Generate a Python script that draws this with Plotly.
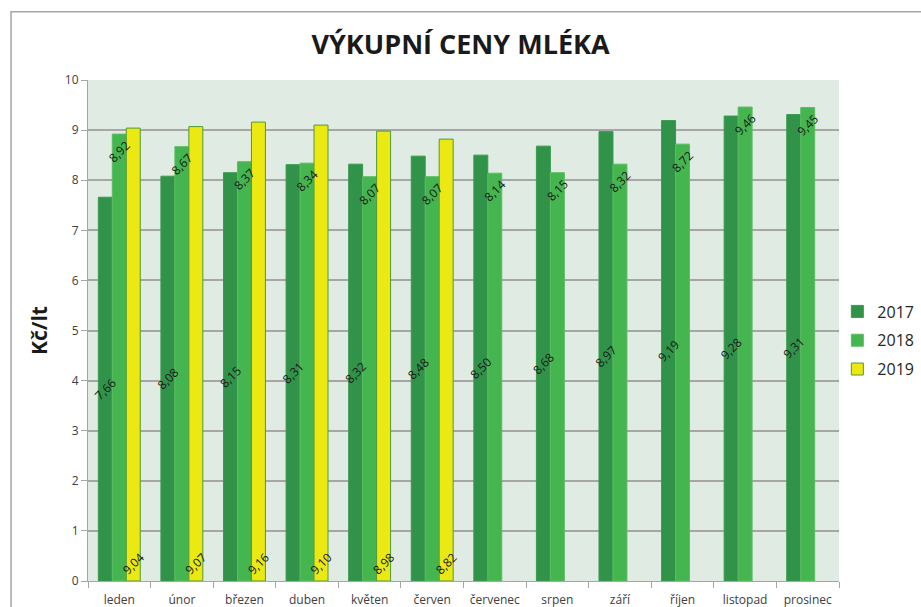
import plotly.graph_objects as go

months = ["leden", "únor", "březen", "duben", "květen", "červen", "červenec",
          "srpen", "září", "říjen", "listopad", "prosinec"]
y2017 = [7.66, 8.08, 8.15, 8.31, 8.32, 8.48, 8.50, 8.68, 8.97, 9.19, 9.28, 9.31]
y2018 = [8.92, 8.67, 8.37, 8.34, 8.07, 8.07, 8.14, 8.15, 8.32, 8.72, 9.46, 9.45]
y2019 = [9.04, 9.07, 9.16, 9.10, 8.98, 8.82, None, None, None, None, None, None]
y_ticks = [0, 1, 2, 3, 4, 5, 6, 7, 8, 9, 10]

FONT = "Open Sans"
label_font = dict(family=FONT, size=12, color="#1a1a1a")

def fmt(vals):
    return ["" if v is None else f"{v:.2f}".replace(".", ",") for v in vals]

series = [
    ("2017", y2017, "#31934a", "#3a9a4c", "middle"),
    ("2018", y2018, "#45b54f", "#5cbd62", "end"),
    ("2019", y2019, "#ebe812", "#4f9a3a", "start"),
]

fig = go.Figure()
# coloured bars
for name, vals, col, lcol, anchor in series:
    fig.add_trace(go.Bar(
        x=months, y=vals, name=name, legendgroup=name, offsetgroup=name,
        marker=dict(color=col, line=dict(color=lcol, width=1)),
        hoverinfo="skip",
    ))
# data labels drawn on top of all bars
for name, vals, col, lcol, anchor in series:
    fig.add_trace(go.Bar(
        x=months, y=vals, name=name, offsetgroup=name, showlegend=False,
        marker=dict(color="rgba(0,0,0,0)", line=dict(width=0)),
        text=fmt(vals), textposition="inside", insidetextanchor=anchor,
        textangle=-45, constraintext="none",
        textfont=label_font, insidetextfont=label_font,
        hoverinfo="skip",
    ))

fig.update_layout(
    width=921, height=607,
    margin=dict(l=88, r=82, t=80, b=26, autoexpand=False),
    paper_bgcolor="white", plot_bgcolor="#e0ece3",
    barmode="group", bargap=0.33, bargroupgap=0,
    font=dict(family=FONT, color="#404040"),
    title=dict(text="<b>VÝKUPNÍ CENY MLÉKA</b>", x=0.5, xanchor="center",
               y=0.926, yanchor="middle", yref="container",
               font=dict(family=FONT, size=27, color="#1a1a1a")),
    legend=dict(x=1.107, xanchor="right", y=0.48, yanchor="middle",
                bgcolor="rgba(0,0,0,0)",
                font=dict(family=FONT, size=16, color="#262626"),
                tracegroupgap=5),
    showlegend=True,
    shapes=[dict(type="rect", xref="paper", yref="paper",
                 x0=-0.1025, x1=1.2, y0=-0.2, y1=1.136,
                 line=dict(color="#a6a6a6", width=1.5), layer="below")],
)
fig.update_yaxes(range=[0, 10], tickvals=y_ticks, showgrid=True,
                 gridcolor="#a6a6a6", gridwidth=1.5, zeroline=False,
                 showline=True, linecolor="#a6a6a6", linewidth=1,
                 ticks="outside", ticklen=6, tickcolor="#a6a6a6",
                 tickfont=dict(family=FONT, size=12, color="#404040"),
                 title=dict(text="<b>Kč/lt</b>", standoff=11,
                            font=dict(family=FONT, size=21, color="#1a1a1a")))
fig.update_xaxes(showline=True, linecolor="#a6a6a6", linewidth=1,
                 ticks="outside", tickson="boundaries", ticklen=6,
                 tickcolor="#a6a6a6", showgrid=False, ticklabelstandoff=8,
                 tickfont=dict(family=FONT, size=12, color="#404040"))

fig.write_html("out.html", config={"displayModeBar": False},
               post_script="document.body.style.margin='0px';")
